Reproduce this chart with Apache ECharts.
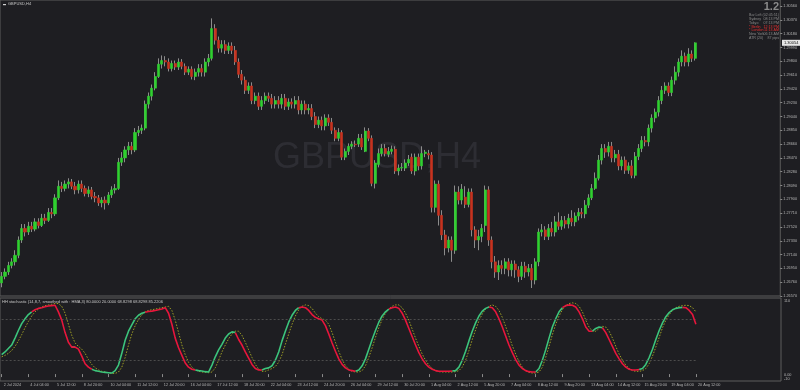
<!DOCTYPE html>
<html><head><meta charset="utf-8">
<script src="https://cdn.jsdelivr.net/npm/echarts@6/dist/echarts.min.js"></script>
<style>html,body{margin:0;padding:0;background:#1e1e22;}#c{width:800px;height:390px;}</style>
</head><body><div id="c"></div>
<script>
const symbolName = 'GBPUSD,H4';
const xTickLabels = ['2 Jul 2024','4 Jul 04:00','5 Jul 12:00','8 Jul 20:00','10 Jul 04:00','11 Jul 12:00','12 Jul 20:00','16 Jul 04:00','17 Jul 12:00','18 Jul 20:00','22 Jul 04:00','23 Jul 12:00','24 Jul 20:00','26 Jul 04:00','29 Jul 12:00','30 Jul 20:00','1 Aug 04:00','2 Aug 12:00','5 Aug 20:00','7 Aug 04:00','8 Aug 12:00','9 Aug 20:00','13 Aug 04:00','14 Aug 12:00','15 Aug 20:00','19 Aug 04:00','20 Aug 12:00'];
const priceMin = 1.26570, priceMax = 1.30643, priceStep = 0.0019;

const openP = [1.2675,1.2684,1.2690,1.2699,1.2704,1.2713,1.2734,1.2750,1.2745,1.2753,
1.2749,1.2759,1.2754,1.2764,1.2761,1.2772,1.2770,1.2792,1.2808,1.2805,
1.2811,1.2814,1.2808,1.2803,1.2811,1.2805,1.2798,1.2803,1.2794,1.2792,
1.2785,1.2789,1.2785,1.2796,1.2803,1.2805,1.2841,1.2847,1.2858,1.2863,
1.2858,1.2882,1.2885,1.2888,1.2921,1.2932,1.2943,1.2959,1.2976,1.2981,
1.2979,1.2970,1.2977,1.2972,1.2979,1.2973,1.2965,1.2969,1.2959,1.2965,
1.2970,1.2965,1.2979,1.2984,1.3025,1.3009,1.2998,1.3003,1.2995,1.3001,
1.2995,1.2979,1.2962,1.2954,1.2940,1.2946,1.2926,1.2932,1.2918,1.2926,
1.2932,1.2929,1.2921,1.2926,1.2921,1.2929,1.2918,1.2924,1.2921,1.2926,
1.2913,1.2921,1.2913,1.2915,1.2904,1.2893,1.2899,1.2891,1.2902,1.2896,
1.2885,1.2874,1.2882,1.2848,1.2856,1.2863,1.2866,1.2866,1.2874,1.2856,
1.2884,1.2874,1.2812,1.2838,1.2853,1.2860,1.2852,1.2856,1.2859,1.2829,
1.2833,1.2833,1.2840,1.2848,1.2829,1.2848,1.2836,1.2853,1.2853,1.2851,
1.2779,1.2811,1.2768,1.2741,1.2723,1.2734,1.2720,1.2800,1.2789,1.2793,
1.2783,1.2800,1.2748,1.2734,1.2739,1.2754,1.2803,1.2734,1.2704,1.2690,
1.2699,1.2695,1.2704,1.2693,1.2701,1.2693,1.2684,1.2698,1.2690,1.2695,
1.2679,1.2704,1.2745,1.2748,1.2739,1.2750,1.2745,1.2759,1.2753,1.2761,
1.2756,1.2764,1.2759,1.2767,1.2772,1.2770,1.2782,1.2792,1.2805,1.2819,
1.2844,1.2860,1.2855,1.2863,1.2847,1.2852,1.2836,1.2844,1.2830,1.2836,
1.2823,1.2849,1.2860,1.2871,1.2869,1.2888,1.2902,1.2910,1.2926,1.2940,
1.2946,1.2937,1.2954,1.2965,1.2979,1.2987,1.2979,1.2990,1.2984];
const closeP = [1.2684,1.2690,1.2699,1.2704,1.2713,1.2734,1.2750,1.2745,1.2753,1.2749,
1.2759,1.2754,1.2764,1.2761,1.2772,1.2770,1.2792,1.2808,1.2805,1.2811,
1.2814,1.2808,1.2803,1.2811,1.2805,1.2798,1.2803,1.2794,1.2792,1.2785,
1.2789,1.2785,1.2796,1.2803,1.2805,1.2841,1.2847,1.2858,1.2863,1.2858,
1.2882,1.2885,1.2888,1.2921,1.2932,1.2943,1.2959,1.2976,1.2981,1.2979,
1.2970,1.2977,1.2972,1.2979,1.2973,1.2965,1.2969,1.2959,1.2965,1.2970,
1.2965,1.2979,1.2984,1.3025,1.3009,1.2998,1.3003,1.2995,1.3001,1.2995,
1.2979,1.2962,1.2954,1.2940,1.2946,1.2926,1.2932,1.2918,1.2926,1.2932,
1.2929,1.2921,1.2926,1.2921,1.2929,1.2918,1.2924,1.2921,1.2926,1.2913,
1.2921,1.2913,1.2915,1.2904,1.2893,1.2899,1.2891,1.2902,1.2896,1.2885,
1.2874,1.2882,1.2848,1.2856,1.2863,1.2866,1.2865,1.2874,1.2862,1.2884,
1.2874,1.2812,1.2840,1.2853,1.2860,1.2853,1.2856,1.2859,1.2829,1.2833,
1.2834,1.2840,1.2845,1.2829,1.2848,1.2836,1.2853,1.2855,1.2851,1.2779,
1.2811,1.2768,1.2741,1.2723,1.2734,1.2720,1.2800,1.2789,1.2804,1.2783,
1.2800,1.2748,1.2734,1.2739,1.2750,1.2803,1.2734,1.2704,1.2690,1.2699,
1.2695,1.2704,1.2693,1.2701,1.2693,1.2684,1.2698,1.2690,1.2695,1.2679,
1.2704,1.2745,1.2748,1.2739,1.2750,1.2745,1.2759,1.2753,1.2761,1.2756,
1.2764,1.2759,1.2767,1.2772,1.2770,1.2782,1.2792,1.2805,1.2819,1.2844,
1.2860,1.2855,1.2863,1.2847,1.2852,1.2836,1.2844,1.2830,1.2836,1.2823,
1.2849,1.2860,1.2871,1.2869,1.2888,1.2902,1.2910,1.2926,1.2940,1.2946,
1.2937,1.2954,1.2965,1.2979,1.2987,1.2979,1.2990,1.2984,1.30054];
const lowP = [1.2669,1.2680,1.2686,1.2695,1.2699,1.2709,1.2730,1.2739,1.2741,1.2745,
1.2746,1.2750,1.2752,1.2756,1.2759,1.2764,1.2767,1.2789,1.2800,1.2801,
1.2805,1.2804,1.2797,1.2798,1.2800,1.2794,1.2793,1.2790,1.2786,1.2781,
1.2779,1.2776,1.2782,1.2792,1.2798,1.2803,1.2836,1.2841,1.2851,1.2852,
1.2855,1.2877,1.2880,1.2885,1.2915,1.2926,1.2940,1.2957,1.2970,1.2973,
1.2966,1.2966,1.2968,1.2968,1.2969,1.2961,1.2961,1.2955,1.2954,1.2959,
1.2959,1.2959,1.2973,1.2981,1.3003,1.2992,1.2992,1.2990,1.2990,1.2990,
1.2975,1.2957,1.2948,1.2935,1.2935,1.2921,1.2921,1.2913,1.2913,1.2921,
1.2924,1.2915,1.2915,1.2915,1.2915,1.2913,1.2913,1.2915,1.2915,1.2907,
1.2907,1.2907,1.2907,1.2899,1.2888,1.2888,1.2885,1.2885,1.2891,1.2880,
1.2870,1.2870,1.2844,1.2844,1.2851,1.2859,1.2862,1.2862,1.2858,1.2855,
1.2870,1.2808,1.2805,1.2834,1.2849,1.2849,1.2848,1.2852,1.2825,1.2823,
1.2829,1.2829,1.2836,1.2825,1.2823,1.2830,1.2831,1.2848,1.2845,1.2772,
1.2772,1.2754,1.2734,1.2713,1.2717,1.2704,1.2715,1.2783,1.2783,1.2778,
1.2779,1.2739,1.2723,1.2720,1.2731,1.2745,1.2726,1.2695,1.2682,1.2679,
1.2687,1.2687,1.2684,1.2684,1.2682,1.2676,1.2679,1.2682,1.2684,1.2668,
1.2673,1.2698,1.2739,1.2734,1.2734,1.2739,1.2739,1.2748,1.2748,1.2750,
1.2750,1.2753,1.2753,1.2761,1.2764,1.2764,1.2778,1.2789,1.2803,1.2816,
1.2838,1.2847,1.2849,1.2841,1.2841,1.2830,1.2830,1.2825,1.2825,1.2819,
1.2819,1.2844,1.2855,1.2863,1.2863,1.2882,1.2896,1.2904,1.2921,1.2935,
1.2932,1.2932,1.2948,1.2959,1.2973,1.2973,1.2973,1.2979,1.2981];
const highP = [1.2690,1.2695,1.2704,1.2709,1.2720,1.2739,1.2756,1.2756,1.2759,1.2759,
1.2764,1.2764,1.2770,1.2770,1.2778,1.2778,1.2797,1.2816,1.2814,1.2816,
1.2819,1.2818,1.2814,1.2816,1.2816,1.2809,1.2808,1.2807,1.2800,1.2796,
1.2793,1.2794,1.2800,1.2808,1.2811,1.2847,1.2855,1.2863,1.2869,1.2869,
1.2888,1.2891,1.2893,1.2926,1.2937,1.2948,1.2965,1.2984,1.2988,1.2987,
1.2984,1.2981,1.2981,1.2984,1.2983,1.2977,1.2973,1.2973,1.2970,1.2976,
1.2976,1.2984,1.2990,1.3039,1.3031,1.3014,1.3009,1.3009,1.3006,1.3006,
1.3001,1.2984,1.2968,1.2959,1.2951,1.2951,1.2937,1.2937,1.2932,1.2937,
1.2937,1.2935,1.2932,1.2932,1.2935,1.2935,1.2929,1.2929,1.2932,1.2932,
1.2926,1.2926,1.2921,1.2921,1.2910,1.2904,1.2904,1.2907,1.2907,1.2902,
1.2889,1.2888,1.2885,1.2860,1.2867,1.2870,1.2871,1.2880,1.2880,1.2889,
1.2888,1.2878,1.2844,1.2860,1.2866,1.2866,1.2862,1.2864,1.2863,1.2838,
1.2840,1.2845,1.2851,1.2853,1.2853,1.2853,1.2863,1.2858,1.2858,1.2855,
1.2816,1.2816,1.2775,1.2748,1.2739,1.2739,1.2809,1.2808,1.2811,1.2808,
1.2805,1.2805,1.2753,1.2748,1.2756,1.2809,1.2808,1.2739,1.2712,1.2706,
1.2706,1.2709,1.2709,1.2706,1.2706,1.2698,1.2704,1.2704,1.2701,1.2701,
1.2709,1.2750,1.2756,1.2753,1.2756,1.2759,1.2767,1.2772,1.2767,1.2767,
1.2770,1.2775,1.2772,1.2778,1.2778,1.2789,1.2797,1.2811,1.2827,1.2851,
1.2866,1.2866,1.2869,1.2869,1.2858,1.2858,1.2849,1.2849,1.2841,1.2844,
1.2855,1.2866,1.2877,1.2877,1.2893,1.2907,1.2915,1.2932,1.2946,1.2951,
1.2951,1.2959,1.2973,1.2984,1.2995,1.2992,1.2998,1.2995,1.3006];

const stochMain = [28,32,37,42,52,63,73,80,86,90,93,95,96,97.5,98.5,99,99.5,90,78,60,
46,39,39,36,26,15,10,7,5,4,3,2.5,2,1.5,5,13,30,49,62,71,
80,85,88,89.5,90.5,91,92,93,94,96,88,72,52,38,27,16,10,7,6,5,
4.5,3.5,3,13,25,35,43,52,58,61,60,50,42,32,23,14,8,6,6,8,
9,12,20,32,48,62,75,85,92,96,97,96,92,86,82,80,78,70,58,45,
33,22,14,9,6,5,4,6,12,22,36,50,63,75,84,90,94,96,97,95,
88,78,66,54,42,31,22,15,10,7,5,4,4,4,4,4.5,5,10,20,33,
48,62,74,84,91,95,97,96,90,80,68,55,42,31,21,13,8,5,3.5,3,
3,8,20,35,52,68,80,90,96,99,100,99.5,97,90,80,68,62,62,66,68,
67,60,50,40,30,22,15,10,7,6,6,6.5,8,14,24,36,50,63,74,83,
89,93,95,96,96.5,96,92,86,72];
const stochSignal = [25,27,30,34,40,48,57,67,76,84,90,94,97,99,100,101,102,102,98,88,
72,56,45,40,36,30,21,14,9,6,4,3,2,1,1,3,10,24,42,58,
70,79,86,90,92,93,94,95,96,97,98,92,78,60,42,28,17,10,6,4,
3,2.5,2,3,9,20,32,42,51,58,62,62,56,46,35,24,14,7,4,4,
6,8,11,17,28,43,58,72,84,93,98,100,99,95,88,83,80,78,72,60,
46,33,21,12,7,4,3,3,5,12,24,38,53,67,79,88,94,98,100,100,
96,88,78,65,52,40,29,20,13,8,5,3.5,3,3,3,3,3.5,5,10,20,
34,50,64,77,87,94,98,100,98,92,82,69,55,41,29,18,10,5,2.5,1.5,
1.5,3,10,24,40,57,72,84,93,99,102,103,102,98,90,78,68,62,62,66,
69,68,62,52,40,29,20,13,8,5,4,4,5,8,15,26,39,53,67,78,
86,92,96,98,99,99.5,99,96,90];
const redRanges = [[9,21],[22,27],[43,58],[70,78],[89,106],[116,135],[146,160],[168,177],[180,191],[204,208]];
const stochLevels = [80, 20];
const infoRows = [['Bar Left','(02:45:51)'],['Sydney','08:13 PM'],['Tokyo','07:13 PM'],['* Berlin','12:13 PM'],['* London','11:13 AM'],['New York','06:13 AM'],['ATR (20)','87 pips']];
const infoRed = [false,false,false,true,true,false,false];

const N = openP.length, SLOTS = 234;
const cats = Array.from({length: SLOTS}, (_, i) => String(i));
const wickData = openP.map((o, i) => [o, closeP[i], lowP[i], highP[i]]);
const bodyData = openP.map((o, i) => [o, closeP[i], Math.min(o, closeP[i]), Math.max(o, closeP[i])]);
const segRed = i => redRanges.some(r => i >= r[0] && i < r[1]);
const redLine = [], greenLine = [];
for (let i = 0; i < N; i++) {
  const r = (i > 0 && segRed(i - 1)) || (i < N - 1 && segRed(i));
  const g = (i > 0 && !segRed(i - 1)) || (i < N - 1 && !segRed(i));
  redLine.push(r ? stochMain[i] : null);
  greenLine.push(g ? stochMain[i] : null);
}
const FONT = 'Liberation Sans';
const GRAY = '#b4b4b4';
const graphics = [
  {type:'rect', shape:{x:3,y:4,width:3,height:1.2}, style:{fill:'#d0d0d0'}},
  {type:'text', left:8, top:1.6, style:{text:symbolName, fill:'#c8c8c8', font:'4px '+FONT}},
  {type:'text', x:377, y:158, style:{text:symbolName, fill:'#2d2d33', font:'36px '+FONT, align:'center', verticalAlign:'middle'}, z:-1},
  {type:'text', x:779, y:7, style:{text:'1.2', fill:'#8c8c8c', font:'bold 11px '+FONT, align:'right', verticalAlign:'middle'}},
  {type:'text', left:2, top:300, style:{text:'HH stochastic (14,8,7, smoothed with : HMA,3) 80.0000 20.0000 68.8298 68.8298 85.2206', fill:'#c8c8c8', font:'4px '+FONT}},
  {type:'text', x:784, y:374.5, style:{text:'0.00', fill:GRAY, font:'3.8px '+FONT, verticalAlign:'middle'}}
];
infoRows.forEach((r, k) => {
  const y = 15 + k * 3.85;
  const col = infoRed[k] ? '#e83030' : '#8a8a8a';
  graphics.push({type:'text', x:749, y:y, style:{text:r[0], fill:col, font:'3.6px '+FONT, verticalAlign:'middle'}});
  graphics.push({type:'text', x:779, y:y, style:{text:r[1], fill:col, font:'3.6px '+FONT, align:'right', verticalAlign:'middle'}});
});

const chart = echarts.init(document.getElementById('c'), null, {renderer:'canvas'});
chart.setOption({
  backgroundColor:'#1e1e22',
  animation:false,
  graphic: graphics,
  grid:[
    {left:-1, width:782, top:0, height:296, show:true, borderColor:'#5c5c5c', borderWidth:1, backgroundColor:'transparent'},
    {left:-1, width:782, top:298, height:83, show:true, borderColor:'#5c5c5c', borderWidth:1, backgroundColor:'transparent'}
  ],
  xAxis:[
    {type:'category', gridIndex:0, data:cats, boundaryGap:true, axisLine:{show:false}, axisTick:{show:false}, axisLabel:{show:false}, splitLine:{show:false}},
    {type:'category', gridIndex:1, data:cats, boundaryGap:true, axisLine:{show:false},
     axisTick:{show:true, alignWithLabel:true, length:3, interval:(i)=> i%8===0 && i<N, lineStyle:{color:'#8a8a8a'}},
     axisLabel:{show:true, interval:(i)=> i%8===0 && i<N, formatter:(v, i)=> xTickLabels[i/8], align:'left', margin:2, padding:[0,0,0,2], color:GRAY, fontSize:3.8, fontFamily:FONT},
     splitLine:{show:false}}
  ],
  yAxis:[
    {type:'value', gridIndex:0, position:'right', min:priceMin, max:priceMax, interval:priceStep, scale:true,
     axisLine:{show:false}, splitLine:{show:false},
     axisTick:{show:true, length:2, lineStyle:{color:'#8a8a8a'}},
     axisLabel:{show:true, showMaxLabel:false, showMinLabel:true, margin:3, color:GRAY, fontSize:3.8, fontFamily:FONT, formatter:(v)=> v.toFixed(5)}},
    {type:'value', gridIndex:1, position:'right', min:-10, max:110, interval:120,
     axisLine:{show:false}, splitLine:{show:false}, axisTick:{show:false},
     axisLabel:{show:true, margin:3, color:GRAY, fontSize:3.8, fontFamily:FONT,
       formatter:(v)=> v > 50 ? '{t|' + v + '}' : '{b|' + v + '}',
       rich:{t:{padding:[6,0,0,0], fontSize:3.8, color:GRAY}, b:{padding:[0,0,4,0], fontSize:3.8, color:GRAY}}}}
  ],
  series:[
    {type:'candlestick', xAxisIndex:0, yAxisIndex:0, data:wickData, barWidth:1,
     itemStyle:{color:'#8c8c8c', color0:'#8c8c8c', borderColor:'#8c8c8c', borderColor0:'#8c8c8c', borderWidth:1}, z:2},
    {type:'candlestick', xAxisIndex:0, yAxisIndex:0, data:bodyData, barWidth:2.6,
     itemStyle:{color:'#2fd02f', color0:'#c8321e', borderColor:'#2fd02f', borderColor0:'#c8321e', borderWidth:0.6}, z:3},
    {type:'line', xAxisIndex:0, yAxisIndex:0, data:[], symbol:'none', z:20,
     markLine:{symbol:'none', silent:true, lineStyle:{color:'rgba(0,0,0,0)', width:0},
       data:[[{coord:['0', closeP[N-1]]}, {coord:[String(SLOTS-1), closeP[N-1]], x:781}]],
       label:{show:true, position:'end', distance:1, formatter:()=> closeP[N-1].toFixed(5), backgroundColor:'#e6e6e6', color:'#111', fontSize:4, fontFamily:FONT, padding:[1,2,1,2]}}},
    {type:'line', xAxisIndex:1, yAxisIndex:1, data:stochSignal, symbol:'none', lineStyle:{color:'#a0a024', width:1, type:[1.5,1.5]}, z:3,
     markLine:{symbol:'none', silent:true, label:{show:false}, lineStyle:{color:'#4c4c4c', width:1, type:[2,2]},
       data: stochLevels.map(v => [{coord:['0', v]}, {coord:[String(N-1), v]}])}},
    {type:'line', xAxisIndex:1, yAxisIndex:1, data:greenLine, symbol:'none', connectNulls:false, lineStyle:{color:'#3cc47c', width:1.6}, z:4},
    {type:'line', xAxisIndex:1, yAxisIndex:1, data:redLine, symbol:'none', connectNulls:false, lineStyle:{color:'#e8163c', width:1.6}, z:5}
  ]
});
</script></body></html>
